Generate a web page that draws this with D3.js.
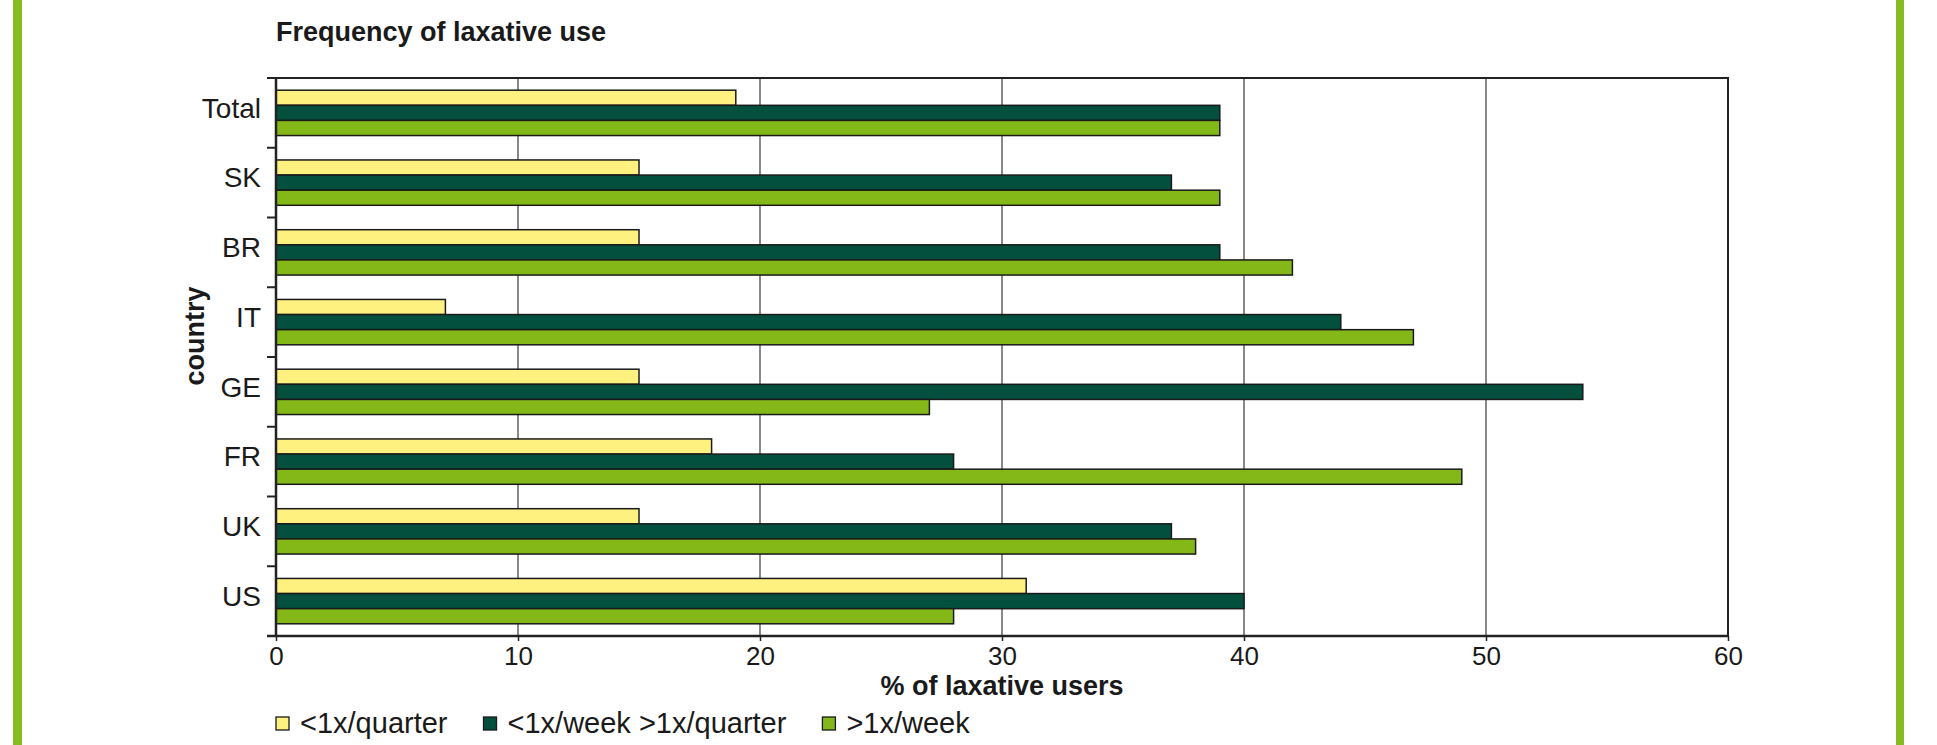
<!DOCTYPE html>
<html>
<head>
<meta charset="utf-8">
<script src="https://cdn.jsdelivr.net/npm/d3@7"></script>
<style>
  body { margin: 0; background: #fff; }
  svg { display: block; font-family: "Liberation Sans", Arial, sans-serif; }
  .axis text { font-size: 26px; fill: #1a1a1a; }
</style>
</head>
<body>
<div id="chart"></div>
<script>
// chart data
var countries = ["Total", "SK", "BR", "IT", "GE", "FR", "UK", "US"];
var seriesNames = ["<1x/quarter", "<1x/week >1x/quarter", ">1x/week"];
var quarterly = [19, 15, 15, 7, 15, 18, 15, 31];
var weekly = [39, 37, 39, 44, 54, 28, 37, 40];
var moreWeekly = [39, 39, 42, 47, 27, 49, 38, 28];
var xTicks = [0, 10, 20, 30, 40, 50, 60];
var colors = ["#fff17f", "#03503f", "#84b819"];

var svgWidth = 1937;
var svgHeight = 745;

var margin = { top: 78, right: 209, bottom: 109, left: 276 };
var chartWidth = svgWidth - margin.left - margin.right;
var chartHeight = svgHeight - margin.top - margin.bottom;

var svg = d3.select("#chart")
  .append("svg")
  .attr("width", svgWidth)
  .attr("height", svgHeight);

// green frame lines at the page edges
svg.append("rect").attr("x", 13).attr("y", 0).attr("width", 9).attr("height", svgHeight).attr("fill", "#86bc1f");
svg.append("rect").attr("x", 1896).attr("y", 0).attr("width", 8).attr("height", svgHeight).attr("fill", "#86bc1f");

var chartGroup = svg.append("g")
  .attr("transform", `translate(${margin.left}, ${margin.top})`);

var data = countries.map(function(c, i) {
  return { country: c, values: [quarterly[i], weekly[i], moreWeekly[i]] };
});

var xScale = d3.scaleLinear()
  .domain([0, 60])
  .range([0, chartWidth]);

var yScale = d3.scaleBand()
  .domain(countries)
  .range([0, chartHeight])
  .paddingInner(0.35)
  .paddingOuter(0.175);

var subScale = d3.scaleBand()
  .domain([0, 1, 2])
  .range([0, yScale.bandwidth()]);

// vertical gridlines
chartGroup.selectAll(".grid")
  .data(xTicks.slice(1, -1))
  .enter()
  .append("line")
  .attr("x1", d => xScale(d))
  .attr("x2", d => xScale(d))
  .attr("y1", 0)
  .attr("y2", chartHeight)
  .attr("stroke", "#3a3a3a")
  .attr("stroke-width", 1.2);

// top and right border
chartGroup.append("path")
  .attr("d", `M0,0H${chartWidth}V${chartHeight}`)
  .attr("fill", "none")
  .attr("stroke", "#222")
  .attr("stroke-width", 2);

// bars
var groups = chartGroup.selectAll(".country")
  .data(data)
  .enter()
  .append("g")
  .attr("transform", d => `translate(0, ${yScale(d.country)})`);

groups.selectAll("rect")
  .data(d => d.values)
  .enter()
  .append("rect")
  .attr("x", 0)
  .attr("y", (d, i) => subScale(i))
  .attr("width", d => xScale(d))
  .attr("height", subScale.bandwidth())
  .attr("fill", (d, i) => colors[i])
  .attr("stroke", "#1a1a1a")
  .attr("stroke-width", 1.5);

// bottom axis
var bottomAxis = d3.axisBottom(xScale)
  .tickValues(xTicks)
  .tickSize(5)
  .tickPadding(6)
  .tickSizeOuter(0);

var xAxisG = chartGroup.append("g")
  .classed("axis", true)
  .attr("transform", "translate(0, " + chartHeight + ")")
  .call(bottomAxis);
xAxisG.select(".domain").attr("stroke", "#222").attr("stroke-width", 2.5)
  .attr("d", `M-9,0H${chartWidth}`);
xAxisG.selectAll(".tick line").attr("stroke", "#222").attr("stroke-width", 1.5);

// left axis: ticks sit between categories
var leftAxisG = chartGroup.append("g").classed("axis", true);
leftAxisG.append("line")
  .attr("x1", 0).attr("x2", 0)
  .attr("y1", 0).attr("y2", chartHeight)
  .attr("stroke", "#222").attr("stroke-width", 2.5);

var boundaries = countries.map(c => yScale(c) - yScale.step() * yScale.paddingInner() / 2);
boundaries.push(chartHeight);
leftAxisG.selectAll(".ytick")
  .data(boundaries)
  .enter()
  .append("line")
  .attr("x1", -9).attr("x2", 0)
  .attr("y1", d => d).attr("y2", d => d)
  .attr("stroke", "#222").attr("stroke-width", 2);

leftAxisG.selectAll(".ylabel")
  .data(countries)
  .enter()
  .append("text")
  .attr("x", -15)
  .attr("y", d => yScale(d) + yScale.bandwidth() / 2 - 5)
  .attr("dy", "0.35em")
  .attr("text-anchor", "end")
  .style("font-size", "28px")
  .text(d => d);

// title
svg.append("text")
  .attr("x", 276)
  .attr("y", 41)
  .style("font-size", "27px")
  .style("font-weight", "bold")
  .attr("fill", "#1a1a1a")
  .text("Frequency of laxative use");

// axis titles
svg.append("text")
  .attr("x", margin.left + chartWidth / 2)
  .attr("y", 695)
  .attr("text-anchor", "middle")
  .style("font-size", "27px")
  .style("font-weight", "bold")
  .attr("fill", "#1a1a1a")
  .text("% of laxative users");

svg.append("text")
  .attr("transform", "translate(204, 336) rotate(-90)")
  .attr("text-anchor", "middle")
  .style("font-size", "27px")
  .style("font-weight", "bold")
  .attr("fill", "#1a1a1a")
  .text("country");

// legend
var legend = svg.append("g").attr("transform", "translate(276, 723)");
var lx = 0;
seriesNames.forEach(function(name, i) {
  legend.append("rect")
    .attr("x", lx).attr("y", -6)
    .attr("width", 13).attr("height", 13)
    .attr("fill", colors[i])
    .attr("stroke", "#1a1a1a")
    .attr("stroke-width", 1.3);
  var t = legend.append("text")
    .attr("x", lx + 24)
    .attr("y", 0)
    .attr("dy", "0.35em")
    .style("font-size", "29px")
    .attr("fill", "#1a1a1a")
    .text(name);
  lx += 24 + t.node().getComputedTextLength() + 36;
});
</script>
</body>
</html>
